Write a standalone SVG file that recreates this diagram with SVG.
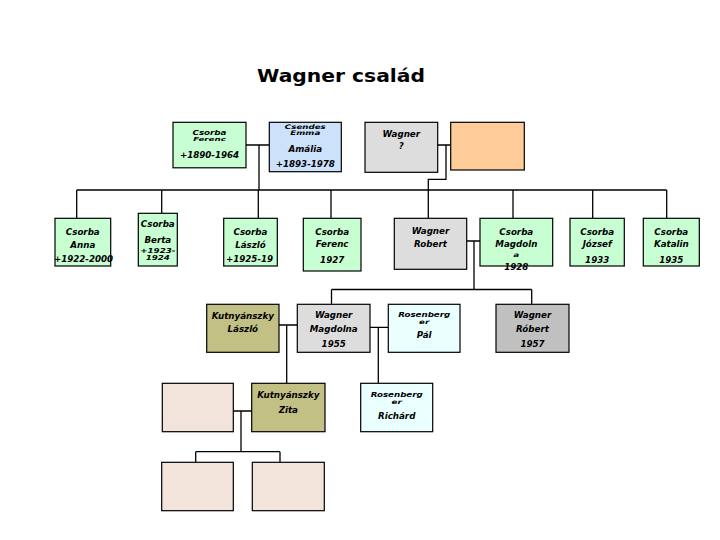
<svg xmlns="http://www.w3.org/2000/svg" width="720" height="540" viewBox="0 0 720 540">
<style>
.b{stroke:#000;stroke-width:1.2}
.g{fill:#c8ffd2}.bl{fill:#cce2fb}.gr{fill:#dddddd}.or{fill:#ffcc99}.ol{fill:#c2c084}.cy{fill:#eaffff}.dg{fill:#c0c0c0}.pk{fill:#f2e3db}
text{font-family:"DejaVu Sans","Liberation Sans",sans-serif;font-weight:bold;font-style:italic;font-size:8.7px;text-anchor:middle;fill:#000}
.title{font-style:normal;font-size:18px}
.c{fill:none;stroke:#000;stroke-width:1.3}
</style>
<rect width="720" height="540" fill="#fff"/>
<text class="title" x="341" y="82" textLength="168" lengthAdjust="spacingAndGlyphs">Wagner család</text>
<g id="connectors">
<path class="c" d="M246,145H269M259,145V190M437.7,145H450.7M446,145V179.3H428.3V218.3M76.7,190H666.7M76.7,190V218.3M161.7,190V213.3M258.3,190V218.3M331,190V218.3M513,190V218.3M592.7,190V218.3M666.7,190V218.3M466.7,241H480M474,241V289.5M331.5,289.5H531.7M331.5,289.5V304.3M531.7,289.5V304.3M279,325H297.3M286.7,325V383.3M370,327.3H388.3M378.3,327.3V383.3M233.3,411H251.7M241,411V451.7M195.7,451.7H280M195.7,451.7V462.3M280,451.7V462.3"/>
</g>
<g id="csorba-ferenc-1890"><rect class="b g" x="173" y="122.3" width="73" height="45.5"/><text transform="translate(209.5,135.3) scale(1,0.85)">Csorba</text><text transform="translate(209.5,141) scale(1,0.62)">Ferenc</text><text x="209.5" y="157.5">+1890-1964</text></g>
<g id="csendes-emma"><rect class="b bl" x="269.3" y="122.3" width="72" height="49.4"/><text transform="translate(305.3,129.3) scale(1,0.72)">Csendes</text><text transform="translate(305.3,135.3) scale(1,0.72)">Emma</text><text x="305.3" y="151.5">Amália</text><text x="305.3" y="167">+1893-1978</text></g>
<g id="wagner-q"><rect class="b gr" x="365" y="122.3" width="72.7" height="50"/><text x="401.3" y="137">Wagner</text><text x="401.3" y="149">?</text></g>
<g id="orange"><rect class="b or" x="450.7" y="122.3" width="73.6" height="47.7"/></g>
<g id="csorba-anna"><rect class="b g" x="55" y="218.3" width="55.7" height="47.7"/><text x="82.8" y="235">Csorba</text><text x="82.8" y="247.5">Anna</text><text x="83.5" y="261.5">+1922-2000</text></g>
<g id="csorba-berta"><rect class="b g" x="138.3" y="213.3" width="39" height="52.7"/><text x="157.8" y="226.5">Csorba</text><text x="157.8" y="242.5">Berta</text><text transform="translate(157.8,253.2) scale(1,0.78)">+1923-</text><text transform="translate(157.8,260.3) scale(1,0.78)">1924</text></g>
<g id="csorba-laszlo"><rect class="b g" x="223.7" y="218.3" width="53.6" height="47.7"/><text x="250.5" y="235">Csorba</text><text x="250.5" y="247.5">László</text><text x="249.5" y="261.5">+1925-19</text></g>
<g id="csorba-ferenc-1927"><rect class="b g" x="303.3" y="218.3" width="57.7" height="52.7"/><text x="332.2" y="235">Csorba</text><text x="332.2" y="247">Ferenc</text><text x="332.2" y="262.5">1927</text></g>
<g id="wagner-robert"><rect class="b gr" x="394.3" y="218.3" width="72.4" height="51"/><text x="430.5" y="234">Wagner</text><text x="430.5" y="247">Robert</text></g>
<g id="csorba-magdolna"><rect class="b g" x="480" y="218.3" width="72.7" height="47.7"/><text x="516.3" y="246.5">Magdoln</text><text x="516.3" y="235">Csorba</text><text transform="translate(516.3,256.8) scale(1,0.7)">a</text><text x="516.3" y="269.5">1928</text></g>
<g id="csorba-jozsef"><rect class="b g" x="570" y="218.3" width="54.3" height="47.7"/><text x="597.2" y="235">Csorba</text><text x="597.2" y="247">József</text><text x="597.2" y="262.7">1933</text></g>
<g id="csorba-katalin"><rect class="b g" x="643.3" y="218.3" width="56" height="47.7"/><text x="671.3" y="235">Csorba</text><text x="671.3" y="247">Katalin</text><text x="671.3" y="262.7">1935</text></g>
<g id="kutnyanszky-laszlo"><rect class="b ol" x="206.7" y="304.3" width="72.3" height="48"/><text x="242.8" y="318.5">Kutnyánszky</text><text x="242.8" y="331.7">László</text></g>
<g id="wagner-magdolna"><rect class="b gr" x="297.3" y="304.3" width="72.7" height="48"/><text x="333.7" y="318">Wagner</text><text x="333.7" y="331.7">Magdolna</text><text x="333.7" y="347">1955</text></g>
<g id="rosenberger-pal"><rect class="b cy" x="388.3" y="304.3" width="71.7" height="48"/><text transform="translate(424.2,317.3) scale(1,0.85)">Rosenberg</text><text transform="translate(424.2,324) scale(1,0.7)">er</text><text x="424.2" y="338">Pál</text></g>
<g id="wagner-robert-1957"><rect class="b dg" x="496" y="304.3" width="73" height="48"/><text x="532.5" y="318">Wagner</text><text x="532.5" y="331.7">Róbert</text><text x="532.5" y="347">1957</text></g>
<g id="pink-1"><rect class="b pk" x="162.3" y="383.3" width="71" height="48.4"/></g>
<g id="kutnyanszky-zita"><rect class="b ol" x="251.7" y="383.3" width="73.3" height="48.4"/><text x="288.3" y="398">Kutnyánszky</text><text x="288.3" y="413">Zita</text></g>
<g id="rosenberger-richard"><rect class="b cy" x="360.7" y="383.3" width="72" height="48.4"/><text transform="translate(396.7,397.3) scale(1,0.85)">Rosenberg</text><text transform="translate(396.7,404.3) scale(1,0.7)">er</text><text x="396.7" y="419">Richárd</text></g>
<g id="pink-2"><rect class="b pk" x="161.7" y="462.3" width="71.6" height="48.4"/></g>
<g id="pink-3"><rect class="b pk" x="252.3" y="462.3" width="72" height="48.4"/></g>
</svg>
